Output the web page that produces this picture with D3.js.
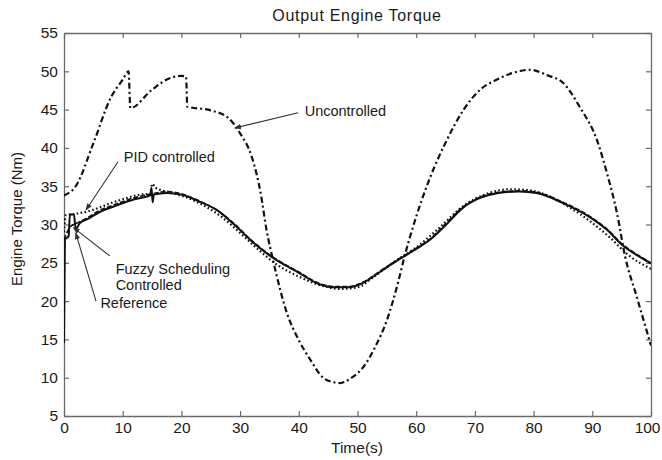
<!DOCTYPE html>
<html>
<head>
<meta charset="utf-8">
<script src="https://cdn.jsdelivr.net/npm/d3@7"></script>
<style>
  html, body { margin: 0; padding: 0; background: #fff; }
  svg { display: block; }
  text { font-family: "Liberation Sans", Arial, Helvetica, sans-serif; fill: #1a1a1a; }
</style>
</head>
<body>
<script>
// ---------- data ----------
const xTicks = [0, 10, 20, 30, 40, 50, 60, 70, 80, 90, 100];
const yTicks = [5, 10, 15, 20, 25, 30, 35, 40, 45, 50, 55];

const uncontrolledT = [0, 2, 5, 8, 10, 11, 11.3, 15, 18, 20, 20.8, 21, 25, 28, 30, 32, 33.5, 34.5, 35.6, 38, 40, 42, 44, 46, 47, 49, 51, 53, 55, 57, 58, 59.3, 62.4, 65.2, 68, 70.9, 73.7, 76.5, 79.4, 82.3, 85, 87.9, 90.8, 92.5, 94.2, 95.6, 97.6, 100];
const uncontrolledV = [33.8, 35, 40.6, 46.6, 48.9, 50, 45.2, 47.6, 49.1, 49.4, 49.3, 45.4, 44.9, 43.9, 41.9, 38.8, 34.1, 29.3, 25.4, 18.4, 14.9, 12.3, 10.1, 9.4, 9.3, 10, 11.4, 14, 17.5, 22.7, 25.8, 29.3, 36.2, 41, 44.9, 47.6, 48.9, 49.8, 50.2, 49.5, 48.5, 45.3, 41, 36.7, 31.5, 25.8, 20.5, 14.2];

const referenceT = [0, 0.15, 0.8, 1.0, 1.7, 2.0, 2.7, 4, 6, 9, 12, 14.7, 14.9, 15.1, 15.3, 17.5, 20, 23, 26, 29, 32, 35.5, 40, 43.5, 46, 48.5, 51, 54, 57, 60, 62.5, 65, 68, 71, 74, 77.5, 80.5, 85, 89.5, 92.5, 95, 98, 100];
const referenceV = [14.5, 28, 28.5, 31.3, 31.3, 29.4, 30.2, 30.7, 31.6, 32.5, 33.3, 33.8, 34.8, 32.9, 33.9, 34.1, 33.9, 33.0, 31.9, 30.0, 27.8, 25.7, 23.7, 22.2, 21.8, 21.8, 22.4, 23.9, 25.4, 26.8, 28.1, 29.9, 32.2, 33.5, 34.1, 34.3, 34.1, 32.8, 31.0, 29.3, 27.4, 25.8, 24.9];

const fuzzyT = [0, 0.3, 1.2, 2, 4, 6, 9, 12, 15, 17.5, 20, 23, 26, 29, 32, 35.5, 40, 43.5, 46, 48.5, 51, 54, 57, 60, 62.5, 65, 68, 71, 74, 77.5, 80.5, 85, 89.5, 92.5, 95, 98, 100];
const fuzzyV = [28, 28.6, 29.8, 30.1, 30.9, 31.8, 32.7, 33.5, 34.0, 34.3, 34.0, 33.1, 31.9, 30.1, 27.9, 25.8, 23.8, 22.3, 21.9, 21.9, 22.5, 24.0, 25.5, 26.9, 28.2, 30.1, 32.3, 33.6, 34.2, 34.4, 34.2, 32.9, 31.1, 29.4, 27.5, 25.9, 25.0];

const pidT = [0, 0.3, 2, 4, 6, 8, 10, 13, 14.7, 15.0, 15.6, 18, 21, 24, 27, 30, 33, 36, 40, 44, 47, 50, 53, 56, 60, 64, 68, 72, 76, 79, 82, 86, 90, 93, 96, 100];
const pidV = [29, 31.2, 31.4, 31.7, 32.2, 32.8, 33.3, 33.9, 34.0, 35.3, 34.8, 34.2, 33.5, 32.4, 30.9, 28.9, 26.8, 24.9, 23.2, 22.0, 21.6, 21.8, 23.3, 25.0, 27.0, 29.6, 32.4, 34.0, 34.6, 34.5, 33.9, 32.3, 30.2, 28.3, 26.1, 24.2];

// annotations in data units: label, text position, arrow tail, arrow head
const annoLabels = [["Uncontrolled"], ["PID controlled"], ["Fuzzy Scheduling", "Controlled"], ["Reference"]];
const annoText  = [[41.0, 44.2], [10.2, 38.1], [8.8, 23.5], [6.2, 19.1]];
const annoTail  = [[39.9, 44.6], [9.2, 38.2], [7.8, 25.9], [5.45, 20.0]];
const annoHead  = [[29.1, 42.6], [3.75, 31.9], [1.6, 29.6], [2.0, 28.9]];

// ---------- chart ----------
const W = 662, H = 460;
const svg = d3.select("body").append("svg").attr("width", W).attr("height", H);

const x = d3.scaleLinear().domain([0, 100]).range([64, 651]);
const y = d3.scaleLinear().domain([5, 55]).range([416, 33]);

const defs = svg.append("defs");
defs.append("clipPath").attr("id", "plotclip").append("rect")
  .attr("x", x(0)).attr("y", y(55) - 2).attr("width", x(100) - x(0)).attr("height", y(5) - y(55) + 2);
defs.append("marker").attr("id", "arrowhead")
  .attr("viewBox", "0 0 10 10").attr("refX", 9).attr("refY", 5)
  .attr("markerWidth", 7).attr("markerHeight", 7).attr("markerUnits", "userSpaceOnUse")
  .attr("orient", "auto")
  .append("path").attr("d", "M0,1 L10,5 L0,9 Z").attr("fill", "#333");

const axisColor = "#6a6a6a";
function styleAxis(g) {
  g.selectAll(".domain").attr("stroke", axisColor).attr("stroke-width", 1.3);
  g.selectAll(".tick line").attr("stroke", axisColor).attr("stroke-width", 1.2);
  g.selectAll(".tick text").style("font-size", "15.5px").attr("fill", "#1a1a1a")
    .style("font-family", "'Liberation Sans', Arial, sans-serif");
}

const gx = svg.append("g").attr("transform", `translate(0,${y(5)})`)
  .call(d3.axisBottom(x).tickValues(xTicks).tickSize(-5).tickSizeOuter(0).tickPadding(6).tickFormat(d3.format("d")))
  .call(styleAxis);
// keep the last label inside the picture
gx.selectAll(".tick text").filter(d => d === 100).attr("text-anchor", "end").attr("dx", "9px");

svg.append("g").attr("transform", `translate(0,${y(55)})`)
  .call(d3.axisTop(x).tickValues(xTicks).tickSize(-5).tickSizeOuter(0).tickFormat(""))
  .call(styleAxis);
svg.append("g").attr("transform", `translate(${x(0)},0)`)
  .call(d3.axisLeft(y).tickValues(yTicks).tickSize(-5).tickSizeOuter(0).tickPadding(6).tickFormat(d3.format("d")))
  .call(styleAxis);
svg.append("g").attr("transform", `translate(${x(100)},0)`)
  .call(d3.axisRight(y).tickValues(yTicks).tickSize(-5).tickSizeOuter(0).tickFormat(""))
  .call(styleAxis);

// lines
const line = d3.line().x(d => x(d[0])).y(d => y(d[1])).curve(d3.curveMonotoneX);
const plot = svg.append("g").attr("clip-path", "url(#plotclip)");

function series(T, V) { return T.map((t, i) => [t, V[i]]); }

plot.append("path").datum(series(fuzzyT, fuzzyV))
  .attr("d", line).attr("fill", "none").attr("stroke", "#111").attr("stroke-width", 1.6)
  .attr("stroke-dasharray", "5,2");
plot.append("path").datum(series(pidT, pidV))
  .attr("d", line).attr("fill", "none").attr("stroke", "#111").attr("stroke-width", 2.2)
  .attr("stroke-dasharray", "1.6,2.4");
plot.append("path").datum(series(referenceT, referenceV))
  .attr("d", line).attr("fill", "none").attr("stroke", "#111").attr("stroke-width", 2);
plot.append("path").datum(series(uncontrolledT, uncontrolledV))
  .attr("d", line).attr("fill", "none").attr("stroke", "#111").attr("stroke-width", 2.2)
  .attr("stroke-dasharray", "6,3,2,3");

// annotations
const anno = svg.append("g");
annoLabels.forEach((lines, i) => {
  anno.append("line")
    .attr("x1", x(annoTail[i][0])).attr("y1", y(annoTail[i][1]))
    .attr("x2", x(annoHead[i][0])).attr("y2", y(annoHead[i][1]))
    .attr("stroke", "#333").attr("stroke-width", 1.1)
    .attr("marker-end", "url(#arrowhead)");
  const t = anno.append("text")
    .attr("x", x(annoText[i][0])).attr("y", y(annoText[i][1]))
    .style("font-size", "14.5px").attr("fill", "#222");
  lines.forEach((s, j) => {
    t.append("tspan").attr("x", x(annoText[i][0])).attr("dy", j === 0 ? 0 : "1.1em").text(s);
  });
});

// titles
svg.append("text").attr("x", 357).attr("y", 21).attr("text-anchor", "middle")
  .style("font-size", "16px").style("letter-spacing", "0.7px").text("Output Engine Torque");
svg.append("text").attr("x", 357).attr("y", 453).attr("text-anchor", "middle")
  .style("font-size", "15.5px").text("Time(s)");
svg.append("text").attr("transform", "translate(22,219) rotate(-90)").attr("text-anchor", "middle")
  .style("font-size", "15px").text("Engine Torque (Nm)");
</script>
</body>
</html>
